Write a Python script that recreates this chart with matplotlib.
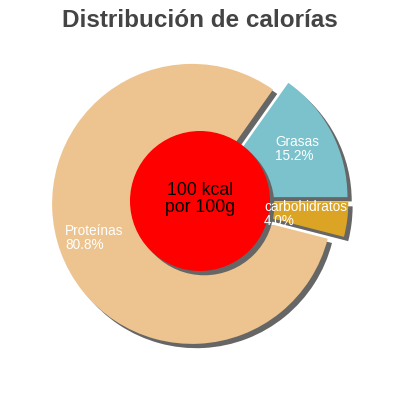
import matplotlib
matplotlib.use("Agg")
import matplotlib.pyplot as plt
import matplotlib.patches as mpatches

# data
labels = ["carbohidratos", "Grasas", "Proteínas"]
shares = [4.0, 15.2, 80.8]
colours = ["#dba424", "#7bc2cc", "#edc48f"]
title = "Distribución de calorías"
centre_text = "100 kcal\npor 100g"

# label anchors (left edge, vertical centre) in pie units
label_pos = {
    "carbohidratos": (0.457, -0.093),
    "Grasas": (0.536, 0.370),
    "Proteínas": (-0.964, -0.264),
}

plt.rcParams['font.family'] = ['Liberation Sans', 'DejaVu Sans']

fig = plt.figure(figsize=(4, 4), dpi=100)
ax = fig.add_axes([0, 0, 1, 1])

shadow = {'ox': 0.022, 'oy': -0.022, 'facecolor': '#666666',
          'edgecolor': 'none', 'alpha': 1.0}
wedges, _ = ax.pie(shares, colors=colours, startangle=-14.4,
                   counterclock=True, explode=[0.06] * len(shares),
                   radius=1.0, shadow=shadow,
                   wedgeprops={'linewidth': 0})

for lab, val in zip(labels, shares):
    x, y = label_pos[lab]
    ax.text(x, y, "{}\n{:.1f}%".format(lab, val), color="white",
            fontsize=9.8, ha="left", va="center", linespacing=0.95,
            zorder=5)

# red centre disc with its shadow
disc = mpatches.Circle((0, 0), 0.5, facecolor="#ff0000", edgecolor="none",
                       zorder=3)
ax.add_patch(mpatches.Shadow(disc, 0.022, -0.022, facecolor="#666666",
                             edgecolor="none", alpha=1.0, zorder=2.9))
ax.add_patch(disc)
ax.text(0, 0.012, centre_text, ha="center", va="center", fontsize=12.7,
        color="black", linespacing=1.0, zorder=4)

fig.text(0.5, 0.932, title, ha="center", va="baseline", fontsize=17.5,
         fontweight="bold", color="#444444")

ax.set_xlim(-200 / 140, 200 / 140)
ax.set_ylim(-199 / 140, 201 / 140)
ax.set_aspect("equal")
ax.axis("off")

fig.savefig("out.png", dpi=100)
